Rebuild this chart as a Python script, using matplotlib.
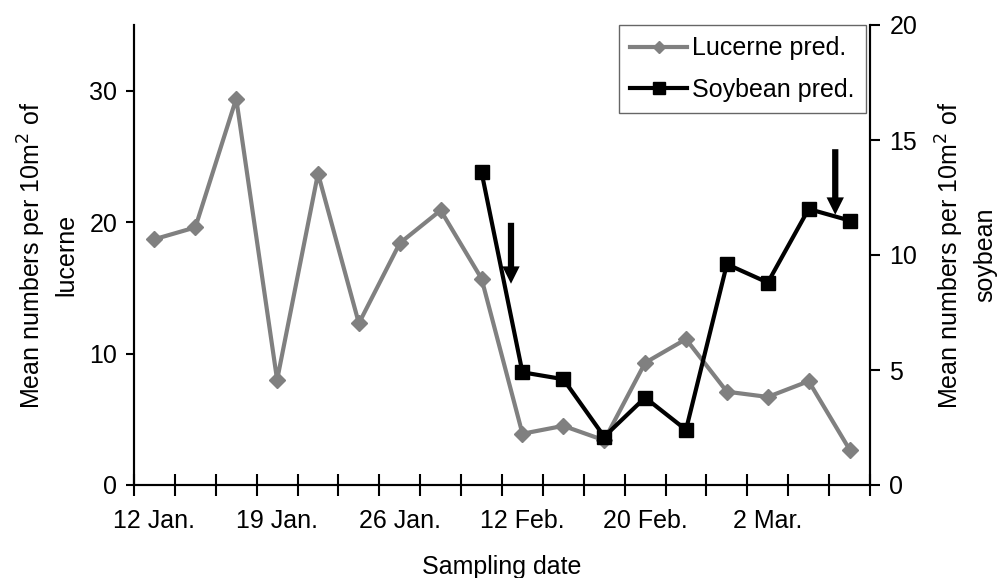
import matplotlib
matplotlib.use("Agg")
import matplotlib.pyplot as plt
from matplotlib.lines import Line2D
import numpy as np

plt.rcParams['font.family'] = ['Liberation Sans', 'DejaVu Sans']

# Sampling occasions (categorical positions) and their date labels
n_samples = 18
date_labels = ["12 Jan.", "19 Jan.", "26 Jan.", "12 Feb.", "20 Feb.", "2 Mar."]
date_label_pos = [0, 3, 6, 9, 12, 15]

# Mean numbers of predators per 10 m2
lucerne_pred = [18.7, 19.6, 29.4, 8.0, 23.7, 12.3, 18.4, 20.9, 15.7,
                3.9, 4.5, 3.4, 9.3, 11.1, 7.1, 6.7, 7.9, 2.7]
soybean_start = 8
soybean_pred = [13.6, 4.9, 4.6, 2.1, 3.8, 2.4, 9.6, 8.8, 12.0, 11.5]

# Arrows marking events on the soybean series: (x, y_top, y_tip) on the right axis
arrows = [(8.72, 11.4, 8.75), (16.65, 14.6, 11.75)]

FS = 18
GREY = "#808080"

fig = plt.figure(figsize=(10.03, 5.78), dpi=100)
ax = fig.add_axes([134 / 1003, 1 - 485 / 578, (870 - 134) / 1003, (485 - 25) / 578])
ax2 = ax.twinx()

x_all = np.arange(n_samples)
x_soy = np.arange(soybean_start, soybean_start + len(soybean_pred))

ax.plot(x_all, lucerne_pred, color=GREY, lw=3, marker="D", markersize=8)
ax2.plot(x_soy, soybean_pred, color="black", lw=3, marker="s", markersize=10)

for xa, ytop, ytip in arrows:
    ax2.annotate("", xy=(xa, ytip), xytext=(xa, ytop),
                 arrowprops=dict(arrowstyle="simple,head_width=1.25,head_length=1.25,tail_width=0.45",
                                 mutation_scale=10, fc="black", ec="none",
                                 shrinkA=0, shrinkB=0))

ax.set_xlim(-0.5, n_samples - 0.5)
ax.set_ylim(0, 35)
ax2.set_ylim(0, 20)

# Category boundaries as ticks crossing the axis; labels on category centres
ax.set_xticks(np.arange(-0.5, n_samples, 1.0))
ax.set_xticklabels([])
ax.set_xticks(date_label_pos, minor=True)
ax.set_xticklabels(date_labels, minor=True)
ax.tick_params(axis="x", which="major", direction="inout", length=16, width=1.5)
ax.tick_params(axis="x", which="minor", length=0, pad=17, labelsize=FS)

ax.set_yticks([0, 10, 20, 30])
ax.tick_params(axis="y", direction="out", length=6, width=1.5, labelsize=FS, pad=6)
ax2.set_yticks([0, 5, 10, 15, 20])
ax2.tick_params(axis="y", direction="out", length=7, width=1.5, labelsize=FS, pad=7)

for a in (ax, ax2):
    a.spines["top"].set_visible(False)
    for s in ("left", "right", "bottom"):
        a.spines[s].set_linewidth(1.5)

ax.set_xlabel("Sampling date", fontsize=FS, labelpad=16)
ax.set_ylabel("Mean numbers per 10m$^2$ of\nlucerne", fontsize=FS, labelpad=8,
              linespacing=1.35)
ax2.set_ylabel("Mean numbers per 10m$^2$ of\nsoybean", fontsize=FS,
               labelpad=12, linespacing=1.35)

# Legend keys with slightly smaller markers than the plotted series
legend_handles = [
    Line2D([], [], color=GREY, lw=3, marker="D", markersize=6),
    Line2D([], [], color="black", lw=3, marker="s", markersize=9),
]
leg = ax2.legend(legend_handles, ["Lucerne pred.", "Soybean pred."],
                 loc="upper right", fontsize=FS,
                 frameon=True, fancybox=False, edgecolor="#404040",
                 handlelength=2.25, handletextpad=0.22, borderpad=0.45,
                 labelspacing=0.7, borderaxespad=0.0,
                 bbox_to_anchor=(1 - 4 / 736, 1.0))
leg.get_frame().set_linewidth(1.0)

fig.savefig("out.png", dpi=100)
